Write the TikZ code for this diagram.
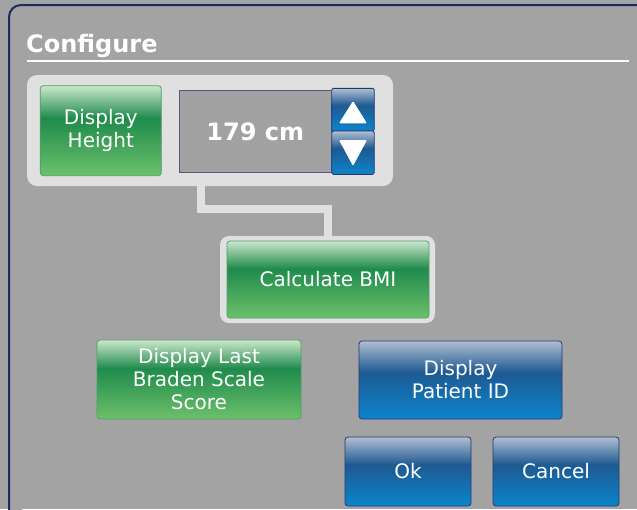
\documentclass[tikz,border=0pt]{standalone}
\usepackage{fontspec}
\setmainfont{DejaVu Sans}

\definecolor{bgGray}{HTML}{A3A3A3}
\definecolor{panelEdge}{HTML}{1B2B5E}
\definecolor{trayGray}{HTML}{E0E0E0}
\definecolor{gTop}{HTML}{CBE7CB}
\definecolor{gDark}{HTML}{1F8B4C}
\definecolor{gBot}{HTML}{6CC06A}
\definecolor{gEdge}{HTML}{4F9E6B}
\definecolor{bTop}{HTML}{B0BED2}
\definecolor{bDark}{HTML}{1E5A92}
\definecolor{bBot}{HTML}{0B85CC}
\definecolor{bEdge}{HTML}{263872}
\definecolor{valFill}{HTML}{A2A2A2}
\definecolor{valEdge}{HTML}{4F5A85}

% glossy button gradients (bottom to top; path spans 25bp..75bp)
\pgfdeclareverticalshading{greenglass}{100bp}{%
  color(0bp)=(gBot); color(25bp)=(gBot); color(57bp)=(gDark);
  color(75bp)=(gTop); color(100bp)=(gTop)}
\pgfdeclareverticalshading{blueglass}{100bp}{%
  color(0bp)=(bBot); color(25bp)=(bBot); color(55bp)=(bDark);
  color(75bp)=(bTop); color(100bp)=(bTop)}

\tikzset{
  btnbase/.style={rounded corners=3pt, text=white, align=center,
    inner sep=0pt, font=\fontsize{20}{23}\selectfont, line width=0.8pt},
  greenbtn/.style={btnbase, draw=gEdge, shading=greenglass},
  bluebtn/.style={btnbase, draw=bEdge, shading=blueglass},
  tray/.style={fill=trayGray, rounded corners=10pt, inner sep=0pt},
  conn/.style={draw=trayGray, line width=8pt},
}

\begin{document}
\begin{tikzpicture}[x=1pt, y=-1pt]
  % canvas and dialog panel
  \fill[bgGray] (0,0) rectangle (637,509);
  \useasboundingbox (0,0) rectangle (637,509);
  \draw[panelEdge, line width=2pt, fill=bgGray, rounded corners=12pt]
    (9,520) -- (9,5) -- (650,5);

  % heading
  \node[anchor=base west, inner sep=0pt, text=white,
        font=\fontsize{24}{28}\selectfont\bfseries] (title) at (26,52) {Configure};
  \draw[white, line width=2pt] (27,61) -- (629,61);

  % height group
  \node[tray, minimum width=366pt, minimum height=111pt] (cont) at (210,130.5) {};
  \node[tray, minimum width=215pt, minimum height=87pt, rounded corners=9pt] (rim) at (327.5,279.5) {};
  \draw[conn] ([xshift=-9pt, yshift=2pt]cont.south) -- ++(0,25) -| ([yshift=-2pt]rim.north);

  \node[greenbtn, minimum width=121pt, minimum height=90pt] (hgt) at (100.8,130.7) {Display\\Height};
  \node[draw=valEdge, fill=valFill, line width=0.8pt, minimum width=152.6pt, minimum height=82.7pt,
        text=white, font=\fontsize{24}{28}\selectfont\bfseries] (val) at (255.3,131.3) {179 cm};
  \node[bluebtn, rounded corners=1.5pt, minimum width=42.6pt, minimum height=42.7pt] (up) at (353,109.7) {};
  \node[bluebtn, rounded corners=1.5pt, minimum width=42.6pt, minimum height=43.3pt] (down) at (353,152.7) {};
  \fill[white, rounded corners=1.2pt]
    ([shift={(-14,13.6)}]up.center) -- ([shift={(14,13.6)}]up.center)
    -- ([shift={(0,-8.7)}]up.center) -- cycle;
  \fill[white, rounded corners=1.2pt]
    ([shift={(-14,-12.7)}]down.center) -- ([shift={(14,-12.7)}]down.center)
    -- ([shift={(0,13.3)}]down.center) -- cycle;

  \node[greenbtn, minimum width=202pt, minimum height=77pt] (bmi) at (328,279.5) {Calculate BMI};

  % remaining options
  \node[greenbtn, minimum width=204pt, minimum height=79pt] (braden) at (199,379.5)
    {Display Last\\Braden Scale\\Score};
  \node[bluebtn, minimum width=203pt, minimum height=78pt] (pid) at (460.5,380) {Display\\Patient ID};

  % dialog actions
  \node[bluebtn, minimum width=126pt, minimum height=69pt] (ok) at (408,471.5) {Ok};
  \node[bluebtn, minimum width=126pt, minimum height=69pt] (cancel) at (556,471.5) {Cancel};
\end{tikzpicture}
\end{document}
